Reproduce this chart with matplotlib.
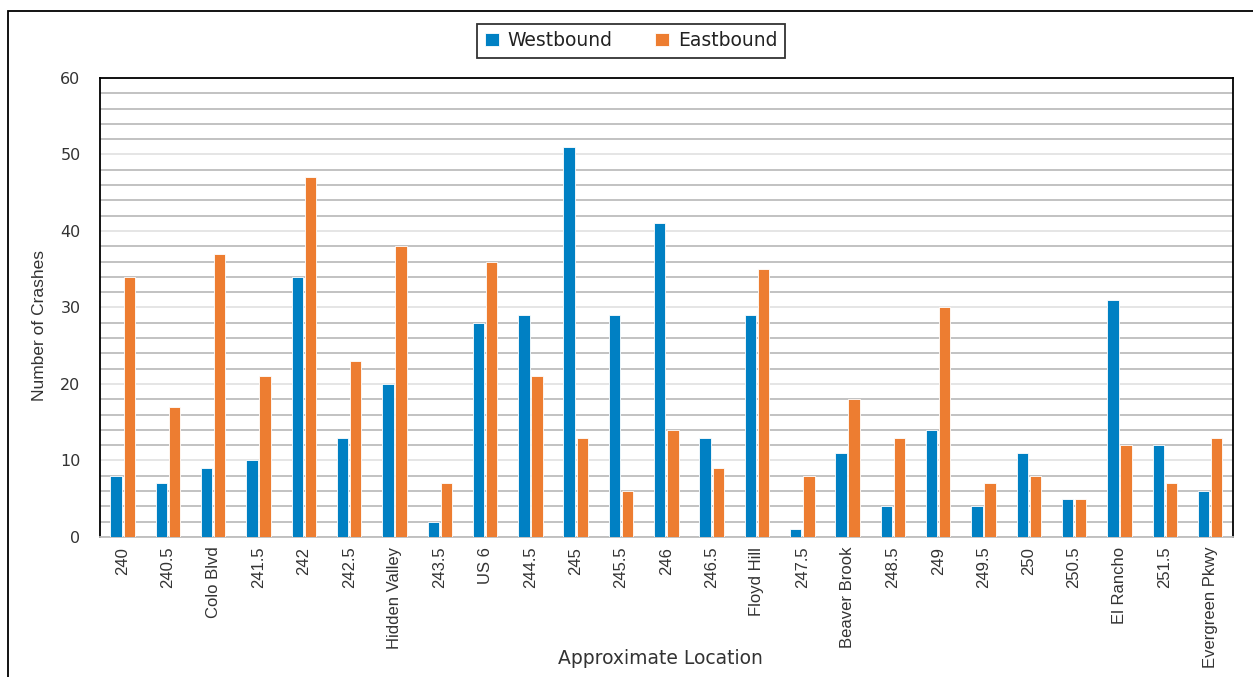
import numpy as np
import matplotlib.pyplot as plt
from matplotlib.patches import Rectangle
from matplotlib.ticker import MultipleLocator

locations = ["240", "240.5", "Colo Blvd", "241.5", "242", "242.5", "Hidden Valley",
             "243.5", "US 6", "244.5", "245", "245.5", "246", "246.5", "Floyd Hill",
             "247.5", "Beaver Brook", "248.5", "249", "249.5", "250", "250.5",
             "El Rancho", "251.5", "Evergreen Pkwy"]
westbound = [8, 7, 9, 10, 34, 13, 20, 2, 28, 29, 51, 29, 41, 13, 29,
             1, 11, 4, 14, 4, 11, 5, 31, 12, 6]
eastbound = [34, 17, 37, 21, 47, 23, 38, 7, 36, 21, 13, 6, 14, 9, 35,
             8, 18, 13, 30, 7, 8, 5, 12, 7, 13]

BLUE = "#0080C3"
ORANGE = "#ED7D31"
NARROW = ["Liberation Sans", "DejaVu Sans"]

fig = plt.figure(figsize=(12.53, 6.77), dpi=100)
ax = fig.add_axes([0.0798, 0.2068, 0.904, 0.678])

x = np.arange(len(locations))
w = 0.25
off = 0.145
ax.bar(x - off, westbound, w, color=BLUE, edgecolor="white", linewidth=0.6,
       label="Westbound", zorder=3)
ax.bar(x + off, eastbound, w, color=ORANGE, edgecolor="white", linewidth=0.6,
       label="Eastbound", zorder=3)

ax.set_xlim(-0.5, len(locations) - 0.5)
ax.set_ylim(0, 60)
ax.yaxis.set_major_locator(MultipleLocator(10))
ax.yaxis.set_minor_locator(MultipleLocator(2))
ax.grid(which="minor", axis="y", color="#BDBDBD", linewidth=1.3, zorder=0)
ax.grid(which="major", axis="y", color="#E3E3E3", linewidth=1.3, zorder=0)
ax.set_axisbelow(True)

ax.set_xticks(x)
ax.set_xticklabels(locations, rotation=90, fontsize=12, family=NARROW, color="#333333")
ax.tick_params(axis="x", length=0, pad=7)
ax.tick_params(axis="y", which="both", length=0, pad=14, labelsize=11.5,
               labelcolor="#333333")

for side in ["top", "left", "right"]:
    ax.spines[side].set_color("black")
    ax.spines[side].set_linewidth(1.3)
ax.spines["bottom"].set_color("#BDBDBD")
ax.spines["bottom"].set_linewidth(1.3)

ax.set_ylabel("Number of Crashes", fontsize=12.5, color="#333333", family=NARROW)
ax.yaxis.set_label_coords(-0.047, 0.46)
ax.set_xlabel("Approximate Location", fontsize=13.5, color="#333333")
ax.xaxis.set_label_coords(0.495, -0.245)

leg = fig.legend(loc="center", bbox_to_anchor=(0.5035, 0.94), ncol=2, fontsize=13.5,
                 frameon=True, fancybox=False, edgecolor="black", handlelength=0.75,
                 handleheight=0.75, handletextpad=0.45, columnspacing=2.3,
                 borderpad=0.4, borderaxespad=0)
leg.get_frame().set_linewidth(1.3)
for t in leg.get_texts():
    t.set_color("#222222")

# outer chart border
fig.patches.append(Rectangle((0.0064, -0.05), 1.1, 1.0338, transform=fig.transFigure,
                             fill=False, edgecolor="black", linewidth=1.3))

fig.savefig("out.png", dpi=100)
